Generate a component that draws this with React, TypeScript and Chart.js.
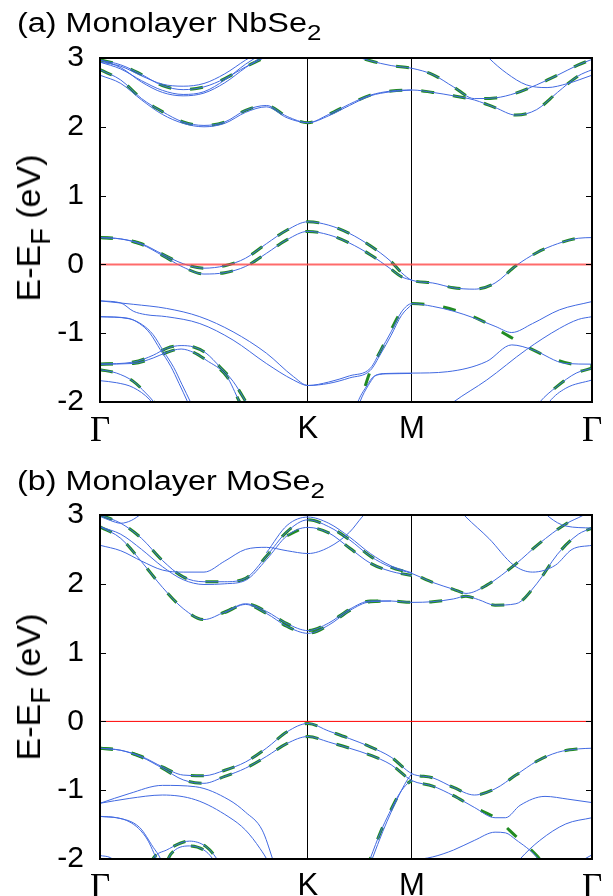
import React, { useEffect, useRef } from 'react';
import { Chart, registerables } from 'chart.js';

Chart.register(...registerables);

type Pt = [number, number];

// ---- k-path (Γ-K = 1) ----
const K_TICKS = [0, 1, 1.5, 2.366];
const K_LABELS = ['Γ', 'K', 'M', 'Γ'];
const Y_TICKS = [-2, -1, 0, 1, 2, 3];
const FERMI: Pt[] = [[0, 0], [2.366, 0]];

// ---- (a) Monolayer NbSe2 ----
const nbLc1: Pt[] = [[0,2.83],[0.1,2.68],[0.2,2.41],[0.3,2.22],[0.4,2.07],[0.5,2.02],[0.6,2.07],[0.7,2.24],[0.8,2.31],[0.9,2.15],[1,2.06],[1.1,2.18],[1.2,2.33],[1.3,2.46],[1.4,2.52],[1.5,2.535],[1.6,2.5],[1.7,2.45],[1.8,2.39],[1.9,2.28],[2.0,2.17],[2.1,2.25],[2.2,2.5],[2.3,2.74],[2.366,2.83]];
const nbLc2: Pt[] = [[0,2.75],[0.1,2.63],[0.2,2.39],[0.3,2.18],[0.4,2.05],[0.5,2.0],[0.6,2.05],[0.7,2.21],[0.8,2.29],[0.9,2.13],[1,2.06],[1.1,2.16],[1.2,2.31],[1.3,2.45],[1.4,2.51],[1.5,2.535]];
const nbUg: Pt[] = [[0,2.97],[0.1,2.9],[0.2,2.76],[0.3,2.6],[0.4,2.54],[0.5,2.58],[0.6,2.7],[0.7,2.87],[0.8,3.02],[0.9,3.2]];
const nbUb1: Pt[] = [[0,2.94],[0.1,2.88],[0.2,2.74],[0.3,2.62],[0.4,2.59],[0.5,2.63],[0.6,2.77],[0.7,2.97],[0.8,3.15]];
const nbUb2: Pt[] = [[0,2.94],[0.1,2.84],[0.2,2.67],[0.3,2.53],[0.4,2.47],[0.5,2.51],[0.6,2.68],[0.7,2.91],[0.8,3.1]];
const nbUb3: Pt[] = [[0,2.97],[0.1,2.86],[0.2,2.65],[0.3,2.5],[0.4,2.45],[0.5,2.49],[0.6,2.64],[0.7,2.86],[0.8,3.06]];
const nbUc: Pt[] = [[1,3.4],[1.1,3.25],[1.2,3.06],[1.3,2.96],[1.4,2.89],[1.5,2.85],[1.6,2.76],[1.7,2.58],[1.8,2.41],[1.9,2.42],[2.0,2.49],[2.1,2.61],[2.2,2.75],[2.3,2.9],[2.366,2.98]];
const nbX: Pt[] = [[1.84,3.1],[1.87,3.0],[1.955,2.78],[2.05,2.61],[2.15,2.57],[2.25,2.63],[2.366,2.75]];
const nbF1: Pt[] = [[0,0.39],[0.1,0.37],[0.2,0.3],[0.3,0.15],[0.4,0.01],[0.5,-0.055],[0.6,-0.02],[0.7,0.09],[0.8,0.3],[0.9,0.5],[1,0.62],[1.1,0.57],[1.2,0.45],[1.3,0.27],[1.4,0.04],[1.45,-0.12],[1.5,-0.23],[1.6,-0.27],[1.7,-0.34],[1.8,-0.36],[1.9,-0.27],[2.0,-0.02],[2.1,0.17],[2.2,0.3],[2.3,0.38],[2.366,0.39]];
const nbF2: Pt[] = [[0,0.39],[0.1,0.37],[0.2,0.29],[0.3,0.13],[0.4,-0.04],[0.5,-0.14],[0.6,-0.12],[0.7,-0.03],[0.8,0.16],[0.9,0.36],[1,0.48],[1.1,0.43],[1.2,0.31],[1.3,0.14],[1.4,-0.07],[1.45,-0.18],[1.5,-0.23]];
const nbV1: Pt[] = [[0,-0.53],[0.1,-0.56],[0.16,-0.68],[0.22,-0.73],[0.32,-0.76],[0.48,-0.86],[0.64,-1.1],[0.8,-1.44],[0.93,-1.68],[1,-1.76],[1.1,-1.71],[1.2,-1.62],[1.3,-1.51],[1.35,-1.25],[1.4,-0.98],[1.45,-0.69],[1.5,-0.57],[1.6,-0.61],[1.7,-0.68],[1.8,-0.78],[1.9,-0.9],[1.98,-0.99],[2.08,-0.86],[2.21,-0.66],[2.366,-0.54]];
const nbV2: Pt[] = [[0,-0.53],[0.16,-0.58],[0.32,-0.64],[0.48,-0.76],[0.64,-0.98],[0.8,-1.29],[0.93,-1.63],[1,-1.76],[1.1,-1.73],[1.2,-1.65],[1.3,-1.54],[1.35,-1.3],[1.4,-1.03],[1.45,-0.74],[1.5,-0.58]];
const nbVg: Pt[] = [[1.22,-2.2],[1.25,-2.0],[1.3,-1.55],[1.35,-1.25],[1.4,-0.95],[1.45,-0.68],[1.5,-0.57],[1.65,-0.62],[1.81,-0.78],[1.97,-1.05],[2.08,-1.24],[2.18,-1.37],[2.29,-1.46],[2.366,-1.47]];
const nbV3: Pt[] = [[1.22,-2.2],[1.24,-2.0],[1.28,-1.78],[1.32,-1.62],[1.38,-1.585],[1.5,-1.58],[1.67,-1.56],[1.86,-1.41],[1.98,-1.17],[2.08,-1.24],[2.24,-1.44],[2.366,-1.45]];
const nbV4: Pt[] = [[1.23,-2.2],[1.25,-2.0],[1.29,-1.76],[1.33,-1.61],[1.39,-1.59],[1.5,-1.585]];
const nbV5: Pt[] = [[1.66,-2.1],[1.7,-2.0],[1.86,-1.68],[2.05,-1.24],[2.21,-0.93],[2.3,-0.8],[2.366,-0.76]];
const nbD1: Pt[] = [[0,-0.76],[0.13,-0.78],[0.19,-0.86],[0.24,-1.0],[0.29,-1.24],[0.34,-1.48],[0.38,-1.73],[0.42,-1.99],[0.45,-2.2]];
const nbD2: Pt[] = [[0,-0.76],[0.14,-0.79],[0.205,-0.88],[0.255,-1.02],[0.305,-1.26],[0.355,-1.5],[0.395,-1.75],[0.435,-2.0],[0.465,-2.2]];
const nbH1: Pt[] = [[0,-1.45],[0.16,-1.42],[0.256,-1.32],[0.32,-1.22],[0.39,-1.18],[0.45,-1.2],[0.51,-1.29],[0.577,-1.49],[0.64,-1.7],[0.7,-1.99],[0.73,-2.15]];
const nbH2: Pt[] = [[0,-1.45],[0.16,-1.44],[0.256,-1.36],[0.32,-1.28],[0.39,-1.23],[0.45,-1.28],[0.51,-1.39],[0.61,-1.63],[0.67,-1.99],[0.7,-2.15]];
const nbE1: Pt[] = [[0,-1.53],[0.08,-1.58],[0.16,-1.7],[0.22,-1.87],[0.256,-1.99],[0.28,-2.1]];
const nbE2: Pt[] = [[0,-1.69],[0.08,-1.72],[0.16,-1.79],[0.24,-1.97],[0.27,-2.1]];
const nbE1r: Pt[] = [[2.08,-2.15],[2.115,-2.0],[2.195,-1.78],[2.29,-1.58],[2.366,-1.51]];
const nbE2r: Pt[] = [[2.13,-2.15],[2.16,-2.0],[2.24,-1.8],[2.366,-1.68]];

const NB_BLUE: Pt[][] = [nbLc1, nbLc2, nbUg, nbUb1, nbUb2, nbUb3, nbUc, nbX, nbF1, nbF2, nbV1, nbV2, nbV3, nbV4, nbV5, nbD1, nbD2, nbH1, nbH2, nbE1, nbE2, nbE1r, nbE2r];
const NB_GREEN: Pt[][] = [nbLc1, nbUg, nbUc, nbF1, nbF2, nbVg, nbH1, nbH2, nbE1, nbE1r];

// ---- (b) Monolayer MoSe2 ----
const moC1: Pt[] = [[0,2.83],[0.1,2.66],[0.2,2.32],[0.3,1.95],[0.4,1.64],[0.5,1.48],[0.6,1.59],[0.7,1.71],[0.8,1.6],[0.9,1.42],[1,1.32],[1.1,1.43],[1.2,1.63],[1.3,1.75],[1.4,1.75],[1.5,1.73],[1.6,1.74],[1.7,1.78],[1.76,1.82],[1.82,1.77],[1.9,1.69],[2.0,1.71],[2.1,2.0],[2.2,2.43],[2.3,2.72],[2.366,2.81]];
const moC2: Pt[] = [[0.6,1.58],[0.7,1.7],[0.8,1.57],[0.9,1.38],[1,1.28],[1.1,1.4],[1.2,1.61],[1.3,1.74],[1.4,1.75]];
const moC3: Pt[] = [[0,3.0],[0.1,2.88],[0.2,2.66],[0.3,2.34],[0.4,2.1],[0.5,2.03],[0.6,2.03],[0.7,2.08],[0.8,2.4],[0.9,2.76],[1,2.93],[1.1,2.83],[1.2,2.64],[1.3,2.4],[1.4,2.24],[1.5,2.15],[1.6,2.02],[1.7,1.92],[1.76,1.86],[1.86,1.98],[2.0,2.29],[2.11,2.58],[2.24,2.87],[2.32,2.99],[2.366,3.07]];
const moC3b: Pt[] = [[0.8,2.45],[0.9,2.85],[1,2.97],[1.1,2.88],[1.2,2.68],[1.3,2.44],[1.4,2.26],[1.5,2.16]];
const moC4: Pt[] = [[0,2.83],[0.1,2.72],[0.2,2.5],[0.3,2.25],[0.4,2.06],[0.5,1.99],[0.6,2.0],[0.7,2.05],[0.8,2.35],[0.9,2.7],[1,2.82],[1.1,2.74],[1.2,2.52],[1.3,2.3],[1.4,2.18],[1.5,2.12]];
const moBa: Pt[] = [[0,2.56],[0.1,2.48],[0.2,2.33],[0.3,2.2],[0.4,2.17],[0.5,2.17],[0.6,2.33],[0.7,2.5],[0.8,2.53],[0.9,2.48],[1,2.44],[1.1,2.53],[1.2,2.75],[1.26,2.97],[1.3,3.1]];
const moBc: Pt[] = [[0,2.98],[0.05,2.92],[0.1,2.88],[0.15,2.92],[0.2,3.02],[0.25,3.15]];
const moX1: Pt[] = [[1.72,3.1],[1.76,2.97],[1.87,2.66],[1.99,2.27],[2.08,2.17],[2.19,2.27],[2.27,2.5],[2.366,2.56]];
const moX2: Pt[] = [[2.12,3.1],[2.16,2.97],[2.24,2.84],[2.366,2.81]];
const moV1: Pt[] = [[0,-0.39],[0.1,-0.42],[0.2,-0.51],[0.3,-0.66],[0.4,-0.78],[0.5,-0.79],[0.6,-0.71],[0.7,-0.59],[0.8,-0.39],[0.9,-0.15],[1,-0.03],[1.1,-0.14],[1.2,-0.25],[1.3,-0.37],[1.4,-0.52],[1.5,-0.76],[1.6,-0.82],[1.7,-0.96],[1.8,-1.07],[1.9,-0.98],[2.0,-0.78],[2.1,-0.58],[2.2,-0.45],[2.3,-0.4],[2.366,-0.39]];
const moV2: Pt[] = [[0,-0.39],[0.1,-0.42],[0.2,-0.52],[0.3,-0.68],[0.4,-0.85],[0.5,-0.9],[0.6,-0.8],[0.7,-0.68],[0.8,-0.51],[0.9,-0.32],[1,-0.22],[1.1,-0.3],[1.2,-0.39],[1.3,-0.49],[1.4,-0.63],[1.5,-0.86],[1.6,-0.94],[1.7,-1.08],[1.8,-1.25],[1.9,-1.4]];
const moV2BlueTail: Pt[] = [[1.95,-1.4],[2.02,-1.22],[2.14,-1.09],[2.25,-1.13],[2.366,-1.18]];
const moV2GreenTail: Pt[] = [[2.0,-1.67],[2.1,-1.95],[2.15,-2.15]];
const moS1: Pt[] = [[1.28,-2.15],[1.3,-1.99],[1.35,-1.6],[1.39,-1.34],[1.44,-1.05],[1.48,-0.9],[1.5,-0.86]];
const moS2: Pt[] = [[1.29,-2.15],[1.31,-1.99],[1.36,-1.6],[1.4,-1.32],[1.45,-1.0],[1.48,-0.84],[1.5,-0.76]];
const moL1: Pt[] = [[0,-1.19],[0.14,-1.05],[0.3,-0.93],[0.46,-0.95],[0.62,-1.14],[0.7,-1.32],[0.78,-1.58],[0.83,-2.0],[0.85,-2.2]];
const moL2: Pt[] = [[0,-1.19],[0.14,-1.12],[0.3,-1.07],[0.46,-1.14],[0.62,-1.39],[0.7,-1.58],[0.77,-1.85],[0.81,-2.05],[0.83,-2.2]];
const moM1: Pt[] = [[0,-1.38],[0.08,-1.4],[0.19,-1.54],[0.256,-1.83],[0.29,-1.99],[0.31,-2.15]];
const moM2: Pt[] = [[0,-1.38],[0.128,-1.44],[0.22,-1.68],[0.27,-1.99],[0.29,-2.15]];
const moN: Pt[] = [[0,-1.95],[0.05,-1.98],[0.1,-2.1]];
const moP1: Pt[] = [[0.24,-2.1],[0.256,-1.99],[0.32,-1.87],[0.43,-1.74],[0.51,-1.82],[0.56,-1.99],[0.58,-2.1]];
const moP2: Pt[] = [[0.32,-2.05],[0.34,-1.93],[0.43,-1.81],[0.5,-1.87],[0.54,-1.99],[0.56,-2.1]];
const moR1: Pt[] = [[1.5,-2.02],[1.6,-1.97],[1.7,-1.87],[1.8,-1.73],[1.9,-1.61],[1.95,-1.62],[2.0,-1.72],[2.1,-1.97],[2.13,-2.1]];
const moR2: Pt[] = [[1.98,-2.15],[2.02,-2.0],[2.115,-1.73],[2.24,-1.49],[2.366,-1.4]];
const moR3: Pt[] = [[2.3,-2.05],[2.366,-1.94]];

const moV2Blue: Pt[] = [...moV2, ...moV2BlueTail];
const moV2Green: Pt[] = [...moV2, ...moV2GreenTail];
const moC4Green: Pt[] = moC4.filter(([k]) => k >= 0.9);

const MO_BLUE: Pt[][] = [moC1, moC2, moC3, moC3b, moC4, moBa, moBc, moX1, moX2, moV1, moV2Blue, moS1, moS2, moL1, moL2, moM1, moM2, moN, moP1, moP2, moR1, moR2, moR3];
const MO_GREEN: Pt[][] = [moC1, moC2, moC3, moC4Green, moV1, moV2Green, moS1, moP1, moP2];

// ---- styling ----
const BLUE = 'rgb(65,105,225)';
const GREEN = 'rgb(34,139,34)';
const SANS = '"Liberation Sans", Arial, Helvetica, sans-serif';
const SERIF = '"Liberation Serif", "Times New Roman", serif';
const W = 613;

const framePlugin = {
  id: 'frame',
  afterDraw(chart: any) {
    const { ctx, chartArea } = chart;
    const { left, top, right, bottom } = chartArea;
    const y = chart.scales.y;
    ctx.save();
    ctx.strokeStyle = '#000';
    ctx.lineWidth = 1;
    for (const v of Y_TICKS) {
      const py = Math.round(y.getPixelForValue(v)) + 0.5;
      ctx.beginPath();
      ctx.moveTo(left, py); ctx.lineTo(left + 6, py);
      ctx.moveTo(right - 6, py); ctx.lineTo(right, py);
      ctx.stroke();
    }
    ctx.lineWidth = 2;
    ctx.strokeRect(left, top, right - left, bottom - top);
    ctx.restore();
  },
};

function buildConfig(blue: Pt[][], green: Pt[][], fermiColor: string, fermiWidth: number, xAxisHeight: number) {
  const toData = (b: Pt[]) => b.map(([x, y]) => ({ x, y }));
  const datasets: any[] = [];
  datasets.push({ data: toData(FERMI), borderColor: fermiColor, borderWidth: fermiWidth, pointRadius: 0, clip: 0 });
  blue.forEach((b) => datasets.push({ data: toData(b), borderColor: BLUE, borderWidth: 1, pointRadius: 0, cubicInterpolationMode: 'monotone', clip: 0 }));
  green.forEach((b) => datasets.push({ data: toData(b), borderColor: GREEN, borderWidth: 3, borderDash: [13, 19], pointRadius: 0, cubicInterpolationMode: 'monotone', clip: 0 }));
  return {
    type: 'line',
    data: { datasets },
    plugins: [framePlugin],
    options: {
      animation: false,
      responsive: false,
      devicePixelRatio: 1,
      events: [],
      layout: { padding: { top: 58, right: 21, left: 0, bottom: 0 } },
      plugins: { legend: { display: false }, tooltip: { enabled: false }, title: { display: false } },
      scales: {
        x: {
          type: 'linear', min: 0, max: 2.366,
          afterBuildTicks: (s: any) => { s.ticks = K_TICKS.map((v) => ({ value: v })); },
          afterFit: (s: any) => { s.height = xAxisHeight; },
          ticks: {
            autoSkip: false, maxRotation: 0, padding: 9, color: '#000',
            callback: (_v: any, i: number) => K_LABELS[i],
            font: (c: any) => (c.index === 0 || c.index === 3) ? { family: SERIF, size: 35 } : { family: SANS, size: 31 },
          },
          grid: { color: '#000', lineWidth: 1, drawTicks: false },
          border: { display: false },
        },
        y: {
          type: 'linear', min: -2, max: 3,
          afterBuildTicks: (s: any) => { s.ticks = Y_TICKS.map((v) => ({ value: v })); },
          afterFit: (s: any) => { s.width = 100; },
          ticks: { padding: 16, color: '#000', font: { family: SANS, size: 30 } },
          grid: { display: false, drawTicks: false },
          border: { display: false },
        },
      },
    },
  };
}

function BandChart(props: { blue: Pt[][]; green: Pt[][]; fermiColor: string; fermiWidth: number; top: number; height: number; xAxisHeight: number }) {
  const ref = useRef<HTMLCanvasElement>(null);
  useEffect(() => {
    const cfg: any = buildConfig(props.blue, props.green, props.fermiColor, props.fermiWidth, props.xAxisHeight);
    const chart = new Chart(ref.current as HTMLCanvasElement, cfg);
    return () => chart.destroy();
  }, []);
  return (
    <canvas ref={ref} width={W} height={props.height}
      style={{ position: 'absolute', left: 0, top: props.top, width: W, height: props.height }} />
  );
}

const titleStyle: React.CSSProperties = {
  position: 'absolute', left: 17, fontFamily: SANS, fontSize: 27, lineHeight: '27px',
  transform: 'scaleX(1.2)', transformOrigin: 'left top', whiteSpace: 'nowrap', color: '#000',
};
const subStyle: React.CSSProperties = { fontSize: '0.8em', verticalAlign: '-0.35em', lineHeight: 0 };
const yTitleStyle = (cy: number): React.CSSProperties => ({
  position: 'absolute', left: 28, top: cy, fontFamily: SANS, fontSize: 34, lineHeight: '34px',
  transform: 'translate(-50%,-50%) rotate(-90deg)', whiteSpace: 'nowrap', color: '#000',
});

export default function App() {
  return (
    <div style={{ position: 'absolute', left: 0, top: 0, width: W, height: 896, background: '#fff', overflow: 'hidden' }}>
      <BandChart blue={NB_BLUE} green={NB_GREEN} fermiColor="rgba(255,70,70,0.8)" fermiWidth={2} top={0} height={450} xAxisHeight={48} />
      <BandChart blue={MO_BLUE} green={MO_GREEN} fermiColor="rgb(255,0,0)" fermiWidth={1} top={457} height={439} xAxisHeight={37} />
      <div style={{ ...titleStyle, top: 10 }}>(a) Monolayer NbSe<sub style={subStyle}>2</sub></div>
      <div style={{ ...titleStyle, top: 468 }}>(b) Monolayer MoSe<sub style={subStyle}>2</sub></div>
      <div style={yTitleStyle(228)}>E-E<sub style={subStyle}>F</sub> (eV)</div>
      <div style={yTitleStyle(687)}>E-E<sub style={subStyle}>F</sub> (eV)</div>
    </div>
  );
}
